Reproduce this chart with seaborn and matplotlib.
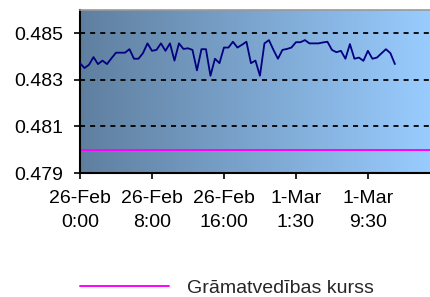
import numpy as np
import pandas as pd
import seaborn as sns
import matplotlib.pyplot as plt
from matplotlib.colors import LinearSegmentedColormap

# half-hourly rate readings
rate = [0.48372, 0.48351, 0.48365, 0.48398, 0.48368, 0.48383, 0.48368, 0.48393,
        0.48417, 0.48417, 0.48417, 0.48432, 0.48391, 0.48391, 0.48415, 0.48457,
        0.48425, 0.48429, 0.48457, 0.48425, 0.48457, 0.48383, 0.48457, 0.48433,
        0.48436, 0.48429, 0.48341, 0.48432, 0.48432, 0.48318, 0.48391, 0.48372,
        0.48439, 0.48439, 0.48464, 0.48439, 0.48451, 0.48464, 0.48372, 0.48383,
        0.48318, 0.48457, 0.48471, 0.48429, 0.48391, 0.48429, 0.48433, 0.48439,
        0.48462, 0.48462, 0.48471, 0.48457, 0.48457, 0.48457, 0.48461, 0.48464,
        0.48429, 0.48419, 0.48425, 0.48391, 0.48454, 0.48391, 0.48396, 0.48382,
        0.48425, 0.48391, 0.48396, 0.48414, 0.48432, 0.48415, 0.48368]
book_rate = [0.4800] * 79
tick_pos = [0, 16, 32, 48, 64]
tick_labels = ["26-Feb\n0:00", "26-Feb\n8:00", "26-Feb\n16:00", "1-Mar\n1:30", "1-Mar\n9:30"]
legend_label = "Grāmatvedības kurss"

sns.set_style("ticks")
plt.rcParams['font.family'] = ['Liberation Sans', 'DejaVu Sans']

df_rate = pd.DataFrame({"idx": np.arange(len(rate)), "val": rate})
df_book = pd.DataFrame({"idx": np.arange(len(book_rate)), "val": book_rate})

fig = plt.figure(figsize=(4.3, 2.97), dpi=100)
ax = fig.add_axes([0.186, 0.4175, 0.814, 0.5485])

# background gradient
cmap = LinearSegmentedColormap.from_list("bg", ["#5f7f9f", "#99ccff"])
ax.imshow(np.linspace(0, 1, 256).reshape(1, -1), cmap=cmap, aspect="auto",
          extent=[0, 1, 0, 1], transform=ax.transAxes, zorder=0)

for yv in [0.481, 0.483, 0.485]:
    ax.axhline(yv, color="black", lw=1.3, ls=(0, (2.8, 2.8)), zorder=1)

sns.lineplot(data=df_book, x="idx", y="val", ax=ax, color="#ff00ff", lw=1.4,
             label=legend_label, zorder=2)
sns.lineplot(data=df_rate, x="idx", y="val", ax=ax, color="#000080", lw=1.3,
             zorder=3, legend=False)

ax.set_xlim(0, 77.8)
ax.set_ylim(0.479, 0.486)
ax.set_yticks([0.479, 0.481, 0.483, 0.485])
ax.set_yticklabels(["0.479", "0.481", "0.483", "0.485"])
ax.set_xticks(tick_pos)
ax.set_xticklabels(tick_labels)
for lbl in ax.get_xticklabels():
    lbl.set_linespacing(1.55)
ax.set_xlabel("")
ax.set_ylabel("")
ax.tick_params(labelsize=14, length=4, width=1.2, pad=8, colors="black")

for side in ["left", "bottom"]:
    ax.spines[side].set_linewidth(1.5)
    ax.spines[side].set_color("black")
ax.spines["top"].set_visible(True)
ax.spines["top"].set_color("#999999")
ax.spines["top"].set_linewidth(1.2)
ax.spines["right"].set_visible(False)

ax.get_legend().remove()
handles, labels = ax.get_legend_handles_labels()
fig.legend(handles, labels, loc="center left", bbox_to_anchor=(0.186, 0.031),
           frameon=False, fontsize=14, handlelength=4.6, handletextpad=0.9,
           borderpad=0, borderaxespad=0)

fig.savefig("out.png", dpi=100)
